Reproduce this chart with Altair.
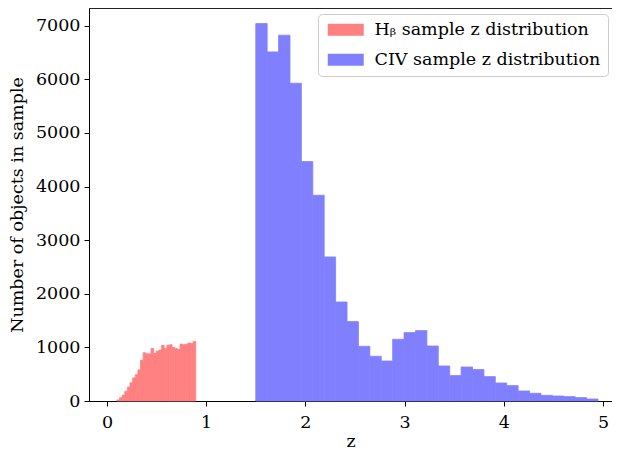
import altair as alt
import numpy as np
import pandas as pd

# ---- data ----
hb_label = "Hᵦ sample z distribution"
civ_label = "CIV sample z distribution"

hb_range = [0.10, 0.895]
hb_counts = [20, 60, 110, 180, 260, 340, 430, 490, 580, 760,
             900, 880, 880, 980, 890, 930, 950, 1040, 980, 1040,
             1050, 1000, 980, 960, 1060, 1050, 1060, 1080, 1070, 1110]

civ_range = [1.50, 4.95]
civ_counts = [7040, 6511, 6823, 5927, 4466, 3838, 2687, 1847, 1481, 1020,
              834, 746, 1151, 1276, 1313, 1026, 653, 474, 634, 586,
              455, 336, 287, 187, 144, 106, 93, 82, 63, 37]

x_ticks = [0, 1, 2, 3, 4, 5]
y_ticks = [0, 1000, 2000, 3000, 4000, 5000, 6000, 7000]
series_labels = [hb_label, civ_label]
series_colors = ["#ff8080", "#8080ff"]


def hist_frame(counts, rng, label):
    edges = np.linspace(rng[0], rng[1], len(counts) + 1)
    return pd.DataFrame({"z0": edges[:-1], "z1": edges[1:],
                         "n": counts, "sample": label})


df = pd.concat([hist_frame(hb_counts, hb_range, hb_label),
                hist_frame(civ_counts, civ_range, civ_label)],
               ignore_index=True)

FONT = "DejaVu Serif"
FS = 17.5
color_scale = alt.Scale(domain=series_labels, range=series_colors)

chart = alt.Chart(df).mark_rect(opacity=1, strokeWidth=0.8).encode(
    x=alt.X("z0:Q",
            scale=alt.Scale(domain=[-0.181, 5.091], nice=False, zero=False),
            axis=alt.Axis(title="z", values=x_ticks, format="d",
                          labelPadding=7,
                          titleY=45, titleBaseline="alphabetic")),
    x2="z1:Q",
    y=alt.Y("n:Q",
            scale=alt.Scale(domain=[0, 7330], nice=False),
            axis=alt.Axis(title="Number of objects in sample", values=y_ticks,
                          format="d", titleX=-67, titleBaseline="alphabetic")),
    y2=alt.datum(0),
    stroke=alt.Stroke("sample:N", scale=color_scale, legend=None),
    color=alt.Color("sample:N", scale=color_scale,
                    legend=alt.Legend(
                        title=None, orient="none", legendX=229, legendY=6,
                        symbolType="M-1,-1L5,-1L5,1L-1,1Z",
                        symbolSize=144, symbolStrokeWidth=0, symbolOpacity=1,
                        labelFont=FONT, labelFontSize=FS, labelColor="black",
                        labelLimit=400,
                        labelOffset=32, rowPadding=11, padding=7,
                        strokeColor="#cccccc", cornerRadius=4,
                        fillColor="white")),
).properties(
    width=523, height=393,
    autosize=alt.AutoSizeParams(type="none"),
    padding={"left": 81, "top": 0, "right": 0, "bottom": 50},
).configure_axis(
    grid=False, domainColor="black", tickColor="black", labelColor="black",
    titleColor="black", labelFont=FONT, titleFont=FONT, labelFontSize=FS,
    titleFontSize=FS, titleFontWeight="normal", tickSize=5, labelPadding=4,
).configure_view(
    stroke="#222222", strokeWidth=1,
)

chart.save("out.html", embed_options={"renderer": "svg", "actions": False})
